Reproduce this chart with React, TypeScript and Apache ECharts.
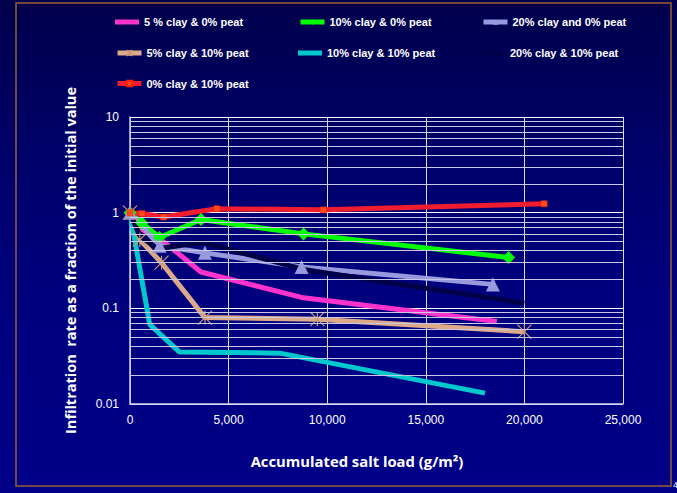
import React, { useEffect, useRef } from "react";
import * as echarts from "echarts";

const seriesNames = [
  "5 % clay & 0% peat",
  "10% clay & 0% peat",
  "20% clay and 0% peat",
  "5% clay & 10% peat",
  "10% clay & 10% peat",
  "20% clay & 10% peat",
  "0% clay & 10% peat",
];

const pinkData = [[0, 1], [600, 0.67], [1800, 0.48], [3600, 0.24], [8700, 0.13], [18600, 0.073]];
const greenData = [[0, 1], [600, 0.78], [1500, 0.55], [3600, 0.85], [8800, 0.6], [19200, 0.34]];
const lavenderData = [[0, 1], [1500, 0.45], [3800, 0.38], [8700, 0.27], [18400, 0.178]];
const tanData = [[0, 1], [500, 0.52], [1600, 0.3], [3800, 0.08], [9500, 0.077], [20000, 0.057]];
const cyanData = [[0, 1], [1000, 0.068], [2500, 0.035], [7600, 0.034], [18000, 0.013]];
const navyData = [[0, 1], [500, 0.57], [1400, 0.42], [3700, 0.49], [8800, 0.255], [20000, 0.113]];
const redData = [[0, 1], [600, 0.98], [1700, 0.9], [4400, 1.1], [9800, 1.07], [21000, 1.24]];

const xTicks = [0, 5000, 10000, 15000, 20000, 25000];
const yTickLabels = ["0.01", "0.1", "1", "10"];
const minorGridValues = [
  0.02, 0.03, 0.04, 0.05, 0.06, 0.07, 0.08, 0.09,
  0.2, 0.3, 0.4, 0.5, 0.6, 0.7, 0.8, 0.9,
  2, 3, 4, 5, 6, 7, 8, 9,
];

// legend layout: left, vertical centre, plain line icon?
const legendLayout = [
  [115, 21.5, true], [298, 21.5, false], [481, 21.5, false],
  [115, 52.5, false], [298, 52.5, true], [481, 52.5, true],
  [115, 83, false],
];

const asterisk = "path://M0 0L10 10M10 0L0 10M5 0L5 10";

export default function App() {
  const ref = useRef<HTMLDivElement>(null);
  useEffect(() => {
    if (!ref.current) return;
    const chart = echarts.init(ref.current, null, { renderer: "svg" });
    const font = "'Liberation Sans', Arial, sans-serif";
    const lineSeries = (name: string, data: number[][], color: string, extra: any = {}) => ({
      name,
      type: "line",
      data,
      lineStyle: { color, width: 5 },
      itemStyle: { color },
      symbol: "none",
      z: 3,
      ...extra,
    });
    chart.setOption({
      animation: false,
      backgroundColor: "transparent",
      grid: { left: 130, right: 54, top: 117, bottom: 89, containLabel: false },
      legend: seriesNames.map((n, i) => {
        const [left, cy, plain] = legendLayout[i] as [number, number, boolean];
        const h = plain ? 5 : 7;
        return {
          data: [plain ? { name: n, icon: "rect" } : n],
          left,
          top: cy - 5,
          itemWidth: 24,
          itemHeight: h,
          padding: 0,
          lineStyle: { width: 5 },
          textStyle: { color: "#ffffff", fontSize: 11, fontWeight: "bold", fontFamily: font },
        };
      }),
      xAxis: {
        type: "value",
        min: xTicks[0],
        max: xTicks[xTicks.length - 1],
        interval: 5000,
        axisLine: { show: true, lineStyle: { color: "#ccccee", width: 1.5 } },
        axisTick: { show: false },
        axisLabel: {
          color: "#ffffff",
          fontSize: 12,
          fontFamily: font,
          margin: 10,
          formatter: (v: number) => v.toLocaleString("en-US"),
        },
        splitLine: { show: true, lineStyle: { color: "#dcdcf0", width: 1 } },
      },
      yAxis: {
        type: "log",
        logBase: 10,
        min: 0.01,
        max: 10,
        axisLine: { show: true, lineStyle: { color: "#ccccee", width: 1.5 } },
        axisTick: { show: false },
        axisLabel: {
          color: "#ffffff",
          fontSize: 12,
          fontFamily: font,
          margin: 11,
          formatter: (v: number) => yTickLabels[Math.round(Math.log10(v)) + 2] ?? "",
        },
        splitLine: { show: true, lineStyle: { color: "#ffffff", width: 1 } },
        name: "Infiltration  rate as a fraction of the initial value",
        nameLocation: "middle",
        nameGap: 52,
        nameRotate: 90,
        nameTextStyle: { color: "#ffffff", fontSize: 14.5, fontWeight: "bold", fontFamily: "'Open Sans', sans-serif" },
      },
      series: [
        {
          name: "__grid",
          type: "line",
          data: [],
          silent: true,
          z: 1,
          markLine: {
            silent: true,
            symbol: "none",
            label: { show: false },
            lineStyle: { color: "#c8c8e6", width: 1, type: "solid" },
            data: minorGridValues.map((v) => ({ yAxis: v })),
          },
        },
        lineSeries(seriesNames[0], pinkData, "#ff33cc"),
        lineSeries(seriesNames[1], greenData, "#00ff00", { symbol: "diamond", symbolSize: 13, showSymbol: true }),
        lineSeries(seriesNames[2], lavenderData, "#9999e0", { symbol: "triangle", symbolSize: 14, showSymbol: true }),
        lineSeries(seriesNames[3], tanData, "#dcaa88", {
          symbol: asterisk,
          symbolSize: 14,
          showSymbol: true,
          itemStyle: { color: "transparent", borderColor: "#c89a78", borderWidth: 1.2 },
        }),
        lineSeries(seriesNames[4], cyanData, "#00c8cc"),
        lineSeries(seriesNames[5], navyData, "#000046"),
        lineSeries(seriesNames[6], redData, "#f01c30", {
          symbol: "rect",
          symbolSize: 6,
          showSymbol: true,
          itemStyle: { color: "#ff4a1a", borderColor: "#ff2200", borderWidth: 0.5 },
        }),
      ],
      graphic: [
        {
          type: "rect",
          shape: { x: 16, y: 3, width: 655, height: 483 },
          style: { fill: "none", stroke: "#9a6030", lineWidth: 1.5 },
          silent: true,
        },
        {
          type: "text",
          x: 357,
          y: 461,
          style: {
            text: "Accumulated salt load (g/m²)",
            fill: "#ffffff",
            font: "bold 14.8px 'Open Sans', sans-serif",
            textAlign: "center",
            textVerticalAlign: "middle",
          },
        },
        {
          type: "text",
          x: 673,
          y: 480,
          style: { text: "4", fill: "#ffffff", font: "9px 'Liberation Sans', sans-serif" },
        },
      ],
    });
    return () => chart.dispose();
  }, []);
  return (
    <div
      style={{
        position: "fixed",
        left: 0,
        top: 0,
        width: 677,
        height: 493,
        background: "linear-gradient(180deg, #00004c 0%, #000068 30%, #00007e 60%, #000088 100%)",
      }}
    >
      <div ref={ref} style={{ width: 677, height: 493 }} />
    </div>
  );
}
